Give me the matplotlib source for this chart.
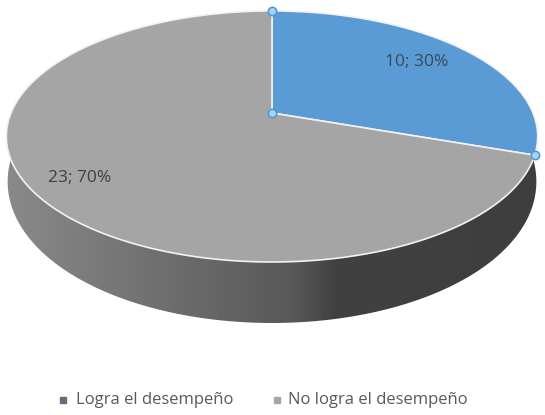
import numpy as np
import matplotlib
matplotlib.use("Agg")
import matplotlib.pyplot as plt
from matplotlib.colors import LinearSegmentedColormap
from matplotlib.patches import Polygon

categories = ["Logra el desempeño", "No logra el desempeño"]
values = [10, 23]
percent_labels = ["10; 30%", "23; 70%"]
colors = ["#5b9bd5", "#a5a5a5"]

# perspective of the disc, in pixels
cx, cy = 272, 113
sx, sy, persp = 261, 100, -0.187
depth = 61


def project(theta):
    # theta runs clockwise from the top of the disc
    u, v = np.sin(theta), -np.cos(theta)
    w = 1 + persp * v
    return cx + sx * u / w, (cy + sy * v) / w


def lower_rim(theta):
    x, y = project(theta)
    return cx + (x - cx) * 0.995, y + depth * (0.68 - 0.32 * np.cos(theta))


fig = plt.figure(figsize=(5.45, 4.15), dpi=100)
ax = fig.add_axes([0, 0, 1, 1])

# side wall, shaded from left to right
t = np.linspace(0.5 * np.pi, 1.5 * np.pi, 300)
xt, yt = project(t)
xb, yb = lower_rim(t)
wall = Polygon(np.r_[np.c_[xt, yt], np.c_[xb, yb][::-1]], closed=True,
               fc="none", ec="none")
ax.add_patch(wall)
shade = LinearSegmentedColormap.from_list(
    "wall", [(0, "#8a8a8a"), (0.54, "#585858"), (0.62, "#414141"), (1, "#3e3e3e")])
img = ax.imshow(np.linspace(0, 1, 256)[None, :], cmap=shade, aspect="auto",
                extent=[5, 538, 330, 100], zorder=1)
img.set_clip_path(wall)

ax.set_xlim(0, 545)
ax.set_ylim(415, 0)
ax.axis("off")

# top of the disc, one wedge per category
fractions = np.cumsum([0] + values) / sum(values)
for i, color in enumerate(colors):
    t = np.linspace(fractions[i], fractions[i + 1], 200) * 2 * np.pi
    x, y = project(t)
    ax.add_patch(Polygon(np.r_[[[cx, cy]], np.c_[x, y]], closed=True,
                         fc=color, ec="#f2f2f2", lw=1.2, zorder=2))

# selection handles on the first wedge
hx, hy = project(np.array([0, fractions[1] * 2 * np.pi]))
ax.plot([cx, hx[0], hx[1]], [cy, hy[0], hy[1]], ls="none", marker="o", ms=6,
        mfc="#a9d3f2", mec="#4a97d6", mew=1.1, zorder=4)

font = "Open Sans"
ax.text(417, 62, percent_labels[0], ha="center", va="center", fontsize=12.5,
        color="#3a4a5a", family=font, zorder=5)
ax.text(79.5, 178, percent_labels[1], ha="center", va="center", fontsize=12.5,
        color="#404040", family=font, zorder=5)

# legend
for mx, tx, label, color in zip([63, 277], [76, 288], categories, ["#5f6f80", "#a5a5a5"]):
    ax.plot([mx], [400], ls="none", marker="s", ms=4, color=color)
    ax.text(tx, 400, label, ha="left", va="center", fontsize=12,
            color="#595959", family=font)

fig.savefig("out.png", dpi=100)
